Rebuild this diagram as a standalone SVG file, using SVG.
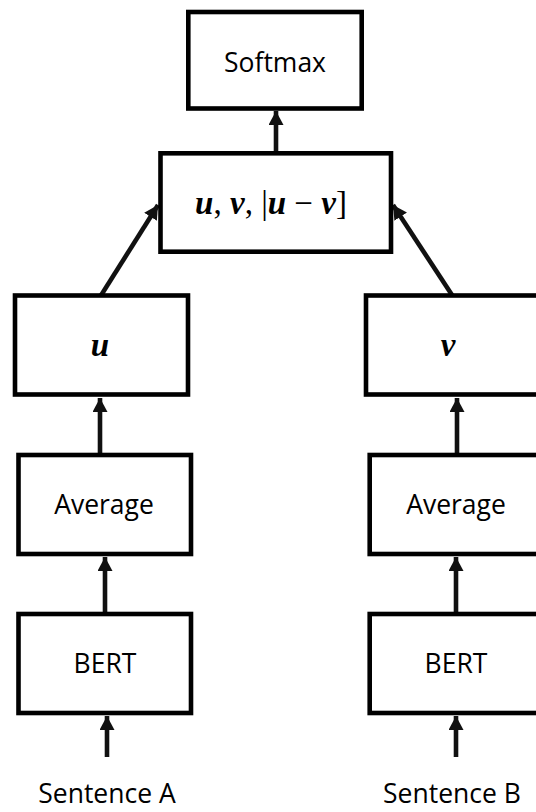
<svg xmlns="http://www.w3.org/2000/svg" width="536" height="812" viewBox="0 0 536 812">
<style>
.box{fill:#fff;stroke:#000;stroke-width:4.6}
.lbl{font-family:"Open Sans","Liberation Sans",sans-serif;font-size:26.5px;fill:#000;text-anchor:middle}
.math{font-family:"Liberation Serif","DejaVu Serif",serif;font-size:33px;fill:#000;text-anchor:middle}
.mv{font-weight:bold;font-style:italic}
.edge{stroke:#111;stroke-width:4.6;fill:none;marker-end:url(#ah)}
</style>
<defs>
<marker id="ah" markerUnits="userSpaceOnUse" markerWidth="15" markerHeight="15" refX="14" refY="7.5" orient="auto">
<path d="M0,0 L14,7.5 L0,15 z" fill="#111"/>
</marker>
</defs>
<rect width="536" height="812" fill="#fff"/>
<g id="connectors">
<line class="edge" x1="276" y1="152" x2="276" y2="111"/>
<line class="edge" x1="100" y1="297" x2="158" y2="205"/>
<line class="edge" x1="452" y1="295" x2="393" y2="205"/>
<line class="edge" x1="100" y1="454" x2="100" y2="398"/>
<line class="edge" x1="105" y1="613" x2="105" y2="557"/>
<line class="edge" x1="107" y1="757" x2="107" y2="716"/>
<line class="edge" x1="457" y1="454" x2="457" y2="398"/>
<line class="edge" x1="456" y1="613" x2="456" y2="557"/>
<line class="edge" x1="456" y1="757" x2="456" y2="716"/>
</g>
<g id="softmax">
<rect class="box" x="188.3" y="12" width="173.4" height="96.5"/>
<text class="lbl" x="275" y="72">Softmax</text>
</g>
<g id="concat">
<rect class="box" x="160.5" y="153.3" width="230.5" height="98.4"/>
<text class="math" x="271" y="214"><tspan class="mv">u</tspan>, <tspan class="mv">v</tspan>, |<tspan class="mv">u</tspan> − <tspan class="mv">v</tspan>]</text>
</g>
<g id="u">
<rect class="box" x="15" y="295.5" width="173" height="99"/>
<text class="math" x="100" y="356"><tspan class="mv">u</tspan></text>
</g>
<g id="v">
<rect class="box" x="366" y="295.5" width="175" height="99"/>
<text class="math" x="448" y="356"><tspan class="mv">v</tspan></text>
</g>
<g id="avgA">
<rect class="box" x="18.5" y="455" width="172.5" height="99"/>
<text class="lbl" x="104" y="514">Average</text>
</g>
<g id="avgB">
<rect class="box" x="369.7" y="455" width="175" height="99"/>
<text class="lbl" x="456" y="514">Average</text>
</g>
<g id="bertA">
<rect class="box" x="18.5" y="614" width="172.5" height="99"/>
<text class="lbl" x="105" y="673">BERT</text>
</g>
<g id="bertB">
<rect class="box" x="369.7" y="614" width="175" height="99"/>
<text class="lbl" x="456" y="673">BERT</text>
</g>
<g id="sentA">
<text class="lbl" x="107" y="803">Sentence A</text>
</g>
<g id="sentB">
<text class="lbl" x="452" y="803">Sentence B</text>
</g>
</svg>
